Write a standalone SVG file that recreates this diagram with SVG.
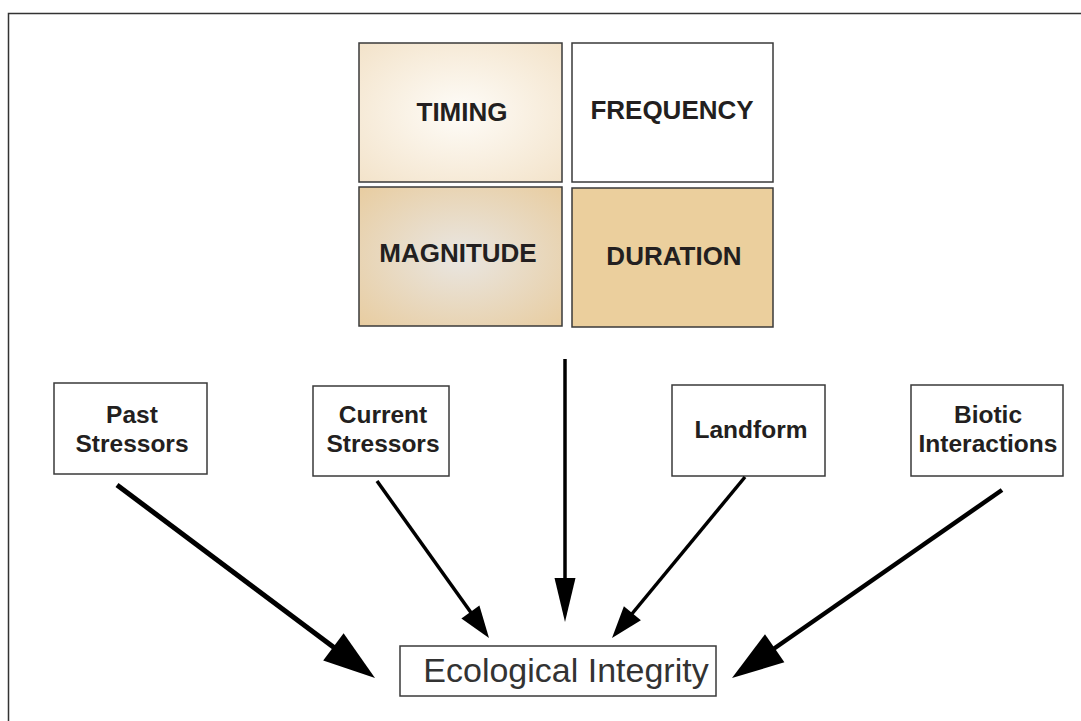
<svg xmlns="http://www.w3.org/2000/svg" width="1081" height="721" viewBox="0 0 1081 721">
<style>
.box{stroke:#3a3a3a;stroke-width:1.5}
.big{font-family:"Liberation Sans",Arial,sans-serif;font-weight:bold;font-size:26px;fill:#231f20;text-anchor:middle}
.lbl{font-family:"Liberation Sans",Arial,sans-serif;font-weight:bold;font-size:24.5px;fill:#231f20;text-anchor:middle}
.eco{font-family:"Liberation Sans",Arial,sans-serif;font-size:34px;fill:#333;text-anchor:middle}
.ln{stroke:#000;fill:none}
.hd{fill:#000}
</style>
<defs>
<radialGradient id="gTiming" cx="0.5" cy="0.5" r="0.7">
<stop offset="0" stop-color="#fefcf8"/>
<stop offset="1" stop-color="#f3e3ca"/>
</radialGradient>
<radialGradient id="gMag" cx="0.5" cy="0.5" r="0.75">
<stop offset="0" stop-color="#e9e6e2"/>
<stop offset="1" stop-color="#e8cb9c"/>
</radialGradient>
</defs>
<rect width="1081" height="721" fill="#fff"/>
<path d="M8.5 721V13.5H1081" fill="none" stroke="#333" stroke-width="1.5"/>
<g id="timing">
<rect class="box" x="359" y="43" width="203" height="139" fill="url(#gTiming)"/>
<text class="big" x="462" y="121">TIMING</text>
</g>
<g id="frequency">
<rect class="box" x="572" y="43" width="201" height="139" fill="#fff"/>
<text class="big" x="672" y="119">FREQUENCY</text>
</g>
<g id="magnitude">
<rect class="box" x="359" y="187" width="203" height="139" fill="url(#gMag)"/>
<text class="big" x="458" y="262">MAGNITUDE</text>
</g>
<g id="duration">
<rect class="box" x="572" y="188" width="201" height="139" fill="#ebcf9d"/>
<text class="big" x="674" y="265">DURATION</text>
</g>
<g id="past">
<rect class="box" x="54" y="383" width="153" height="91" fill="#fff"/>
<text class="lbl" x="132" y="423">Past</text>
<text class="lbl" x="132" y="452">Stressors</text>
</g>
<g id="current">
<rect class="box" x="313" y="386" width="136" height="90" fill="#fff"/>
<text class="lbl" x="383" y="423">Current</text>
<text class="lbl" x="383" y="452">Stressors</text>
</g>
<g id="landform">
<rect class="box" x="672" y="385" width="153" height="91" fill="#fff"/>
<text class="lbl" x="751" y="438">Landform</text>
</g>
<g id="biotic">
<rect class="box" x="911" y="385" width="152" height="91" fill="#fff"/>
<text class="lbl" x="988" y="423">Biotic</text>
<text class="lbl" x="988" y="452">Interactions</text>
</g>
<g id="ecological">
<rect class="box" x="400" y="646" width="316" height="50" fill="#fff"/>
<text class="eco" x="566" y="682">Ecological Integrity</text>
</g>
<g id="connectors">
<line class="ln" x1="117" y1="485" x2="336" y2="649" stroke-width="5"/>
<polygon class="hd" points="375,678 343.6,633.3 323.2,660.5"/>
<line class="ln" x1="377" y1="481" x2="472" y2="614" stroke-width="3.5"/>
<polygon class="hd" points="489,638 479.4,605.6 461.4,618.4"/>
<line class="ln" x1="565" y1="359" x2="565" y2="580" stroke-width="3.5"/>
<polygon class="hd" points="565,622 554.5,578 575.5,578"/>
<line class="ln" x1="745" y1="477" x2="631" y2="615" stroke-width="3.5"/>
<polygon class="hd" points="612,638 640.9,620.3 623.9,606.3"/>
<line class="ln" x1="1002" y1="490" x2="772" y2="650" stroke-width="4.5"/>
<polygon class="hd" points="732,678 784.4,662.3 765,634.3"/>
</g>
</svg>
